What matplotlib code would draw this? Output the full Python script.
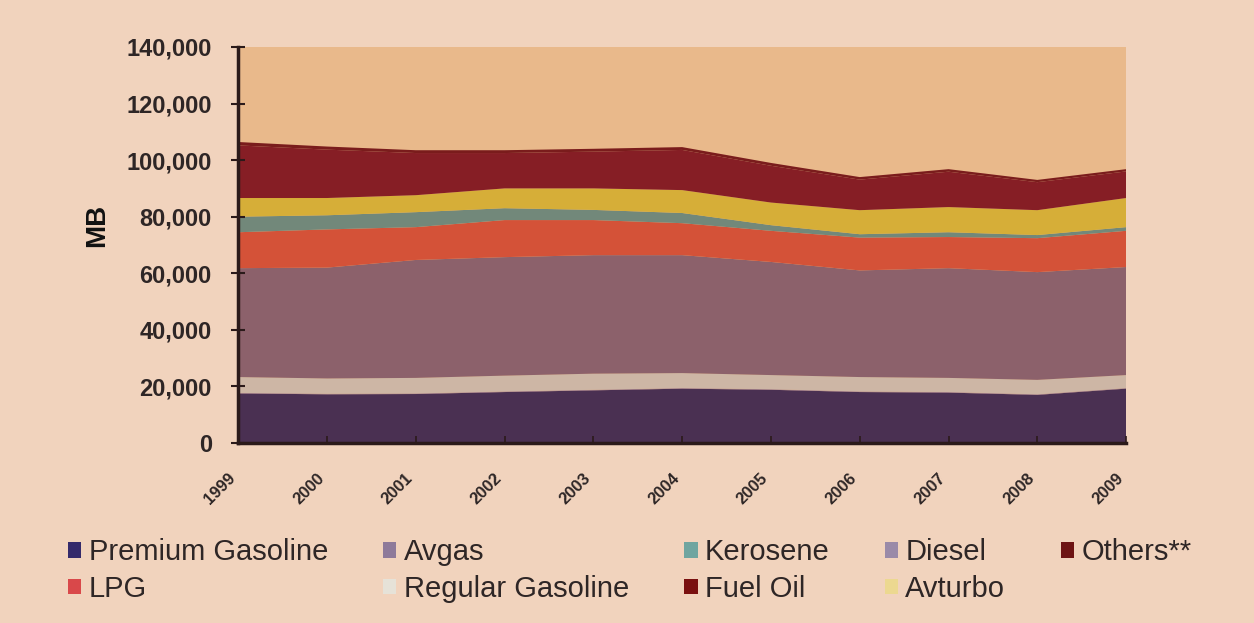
#!/usr/bin/env python3
import matplotlib.pyplot as plt
import matplotlib.ticker as mticker
from matplotlib.patches import Patch
import numpy as np

plt.rcParams['font.family'] = ['Liberation Sans', 'DejaVu Sans']

years = ['1999', '2000', '2001', '2002', '2003', '2004', '2005', '2006', '2007', '2008', '2009']

# MB per fuel (bottom to top)
premium_gasoline = [17500, 17200, 17300, 18000, 18600, 19200, 18800, 18000, 17800, 17000, 19200]
avgas = [200, 200, 200, 200, 200, 200, 200, 200, 200, 200, 200]
regular_gasoline = [5600, 5400, 5500, 5600, 5700, 5300, 5000, 5100, 5000, 5100, 4600]
diesel = [38500, 39200, 41700, 41900, 41900, 41700, 40000, 37700, 38800, 38100, 38200]
lpg = [12700, 13500, 11600, 13100, 12400, 11300, 11000, 11600, 11000, 12000, 12800]
kerosene = [5500, 5000, 5300, 4200, 3600, 3600, 2000, 1200, 1700, 1100, 1300]
avturbo = [6600, 6100, 6000, 7000, 7600, 8100, 8000, 8500, 8900, 8800, 10300]
fuel_oil = [18600, 17100, 14900, 12500, 13000, 14200, 13000, 10800, 12500, 9900, 9400]
others = [1200, 1100, 1000, 1000, 1000, 1000, 1000, 900, 900, 800, 800]

layers = [
    ('Premium Gasoline', premium_gasoline, '#4a3052'),
    ('Avgas', avgas, '#8e6f8f'),
    ('Regular Gasoline', regular_gasoline, '#cdb6a5'),
    ('Diesel', diesel, '#8c616b'),
    ('LPG', lpg, '#d45238'),
    ('Kerosene', kerosene, '#72887a'),
    ('Avturbo', avturbo, '#d6ae38'),
    ('Fuel Oil', fuel_oil, '#861e25'),
    ('Others**', others, '#7a1c1c'),
]
legend_colors = {
    'Premium Gasoline': '#352a6b',
    'Avgas': '#8e7a9a',
    'Kerosene': '#6fa5a0',
    'Diesel': '#9a8aa8',
    'Others**': '#6e1414',
    'LPG': '#d9484a',
    'Regular Gasoline': '#e6e2d8',
    'Fuel Oil': '#7a1010',
    'Avturbo': '#ecd890',
}

text_color = '#2e2626'
fig = plt.figure(figsize=(12.54, 6.23), dpi=100, facecolor='#f1d3bd')
ax = fig.add_axes([0.19, 0.289, 0.708, 0.6356])
ax.set_facecolor('#e9b98b')

x = np.arange(len(years))
ax.stackplot(x, *[vals for _, vals, _ in layers],
             colors=[c for _, _, c in layers], linewidth=0)

ax.set_xlim(0, len(years) - 1)
ax.set_ylim(0, 140000)
ax.yaxis.set_major_locator(mticker.MultipleLocator(20000))
ax.yaxis.set_major_formatter(mticker.FuncFormatter(lambda v, p: f'{v:,.0f}'))
ax.set_xticks(x, years)

for s in ['top', 'right']:
    ax.spines[s].set_visible(False)
for s in ['left', 'bottom']:
    ax.spines[s].set_color('#2b1a1a')
    ax.spines[s].set_linewidth(2.5)

ax.tick_params(axis='y', direction='inout', length=10, width=1.5, color='#2b1a1a',
               labelsize=17, labelcolor=text_color, pad=14)
ax.tick_params(axis='x', direction='in', length=5, width=1.2, color='#2b1a1a',
               labelsize=12, labelcolor=text_color, pad=20)
for lbl in ax.get_yticklabels():
    lbl.set_fontweight('semibold')
for lbl in ax.get_xticklabels():
    lbl.set_rotation(45)
    lbl.set_ha('right')
    lbl.set_fontweight('semibold')

ax.set_ylabel('MB', fontsize=20, fontweight='bold', color='#111111')
ax.yaxis.set_label_coords(-0.144, 0.55)

# legend laid out row by row like the original (matplotlib fills columns first)
legend_order = ['Premium Gasoline', 'LPG', 'Avgas', 'Regular Gasoline', 'Kerosene',
                'Fuel Oil', 'Diesel', 'Avturbo', 'Others**']
handles = [Patch(facecolor=legend_colors[n], edgecolor='none', label=n) for n in legend_order]
fig.legend(handles=handles, ncol=5, loc='upper left', bbox_to_anchor=(0.045, 0.155),
           frameon=False, fontsize=21, handlelength=0.45, handleheight=0.45,
           handletextpad=0.25, columnspacing=1.9, labelspacing=0.3,
           labelcolor=text_color, borderaxespad=0)

fig.savefig('out.png', dpi=100, facecolor=fig.get_facecolor())
